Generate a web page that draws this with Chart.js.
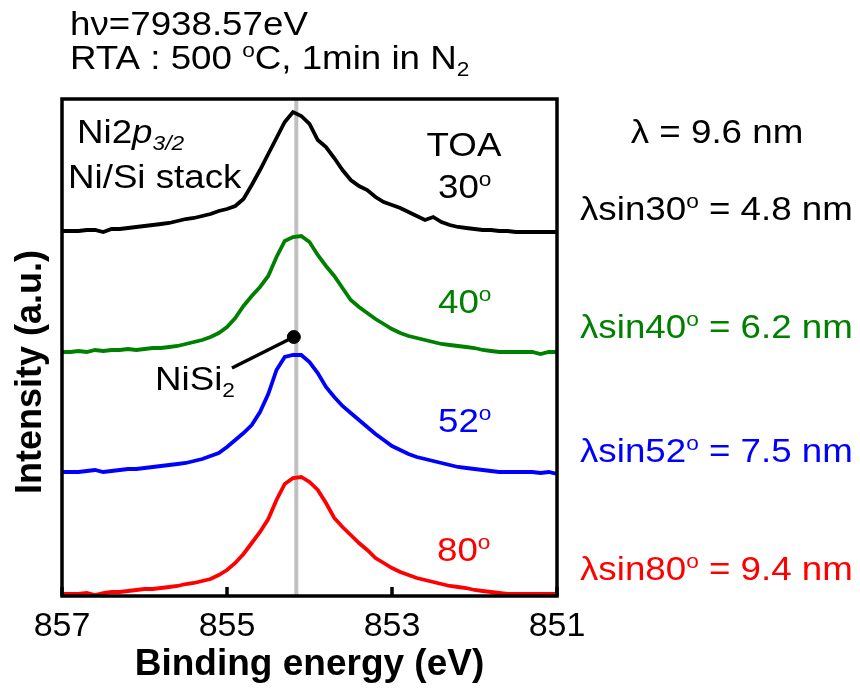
<!DOCTYPE html>
<html>
<head>
<meta charset="utf-8">
<script src="https://cdn.jsdelivr.net/npm/chart.js@4.4.0/dist/chart.umd.min.js"></script>
<style>
  html, body { margin: 0; padding: 0; background: #fff; }
  #wrap { width: 860px; height: 691px; }
</style>
</head>
<body>
<div id="wrap"><canvas id="chart" width="860" height="691"></canvas></div>
<script>
'use strict';

// binding energy grid (eV)
const energies = [
  857.0, 856.9, 856.8, 856.7, 856.6, 856.5, 856.4, 856.3, 856.2, 856.1,
  856.0, 855.9, 855.8, 855.7, 855.6, 855.5, 855.4, 855.3, 855.2, 855.1,
  855.0, 854.9, 854.8, 854.7, 854.6, 854.5, 854.4, 854.3, 854.2, 854.1,
  854.0, 853.9, 853.8, 853.7, 853.6, 853.5, 853.4, 853.3, 853.2, 853.1,
  853.0, 852.9, 852.8, 852.7, 852.6, 852.5, 852.4, 852.3, 852.2, 852.1,
  852.0, 851.9, 851.8, 851.7, 851.6, 851.5, 851.4, 851.3, 851.2, 851.1,
  851.0
];

// stacked intensities (a.u.), each spectrum already offset
const toa30 = [
  365, 365, 365, 366, 366, 364, 367, 367, 368, 369,
  370, 371, 372, 373, 375, 377, 378, 380, 382, 385,
  387, 390, 397, 411, 426, 442, 458, 474, 484, 480,
  472, 456, 449, 438, 426, 416, 410, 406, 399, 394,
  391, 388, 384, 380, 376, 379, 374, 371, 369, 368,
  367, 366, 366, 365, 365, 364, 364, 364, 364, 364,
  364
];
const toa40 = [
  244, 244, 245, 244, 246, 245, 246, 246, 247, 246,
  247, 248, 248, 249, 250, 252, 254, 256, 259, 263,
  269, 278, 290, 300, 309, 320, 339, 355, 359, 360,
  354, 341, 330, 320, 308, 296, 289, 283, 277, 272,
  267, 263, 260, 258, 256, 254, 252, 251, 250, 249,
  248, 246, 245, 244, 244, 244, 244, 244, 242, 244,
  244
];
const toa52 = [
  124, 124, 124, 125, 126, 124, 125, 126, 127, 127,
  128, 129, 130, 131, 132, 133, 135, 137, 140, 143,
  149, 156, 163, 171, 184, 202, 226, 239, 241, 241,
  234, 223, 209, 199, 190, 183, 176, 169, 162, 156,
  150, 146, 142, 139, 137, 135, 133, 131, 129, 128,
  127, 126, 125, 124, 124, 124, 124, 124, 123, 124,
  122
];
const toa80 = [
  2, 2, 2, 3, 1, 3, 4, 4, 5, 6,
  7, 7, 8, 9, 10, 12, 13, 15, 17, 21,
  26, 33, 42, 53, 64, 77, 96, 112, 118, 119,
  114, 106, 93, 78, 69, 61, 53, 46, 38, 33,
  28, 24, 21, 18, 16, 14, 12, 10, 9, 8,
  6, 5, 4, 3, 2, 2, 2, 2, 2, 2,
  2
];

const peakEnergy = 854.16;       // NiSi2 reference line
const markerPoint = [854.19, 259];
const leaderStart = [854.94, 228];
const xTicks = [857, 855, 853, 851];

const FONT = 'Liberation Sans, Arial, sans-serif';
const STRETCH = 1.08;

function pts(ys) {
  return energies.map((e, i) => ({ x: e, y: ys[i] }));
}

// draws text made of normal / sup / sub / italic pieces
function drawRich(ctx, parts, x, y, size, color, align) {
  const font = (p) => (p.it ? 'italic ' : '') +
    ((p.sup || p.sub) ? Math.round(size * 0.62) : size) + 'px ' + FONT;
  let total = 0;
  parts.forEach(p => { ctx.font = font(p); total += ctx.measureText(p.t).width; });
  ctx.save();
  ctx.translate(align === 'center' ? x - total * STRETCH / 2 : x, y);
  ctx.scale(STRETCH, 1);
  ctx.fillStyle = color;
  ctx.textBaseline = 'alphabetic';
  ctx.textAlign = 'left';
  let cx = 0;
  parts.forEach(p => {
    ctx.font = font(p);
    let dy = 0;
    if (p.sup) dy = -size * 0.36;
    if (p.sub) dy = size * 0.22;
    ctx.fillText(p.t, cx, dy);
    cx += ctx.measureText(p.t).width;
  });
  ctx.restore();
}

const labels = [
  { parts: [{ t: 'hν=7938.57eV' }], x: 70, y: 35 },
  { parts: [{ t: 'RTA : 500 ' }, { t: 'o', sup: true }, { t: 'C, 1min in N' }, { t: '2', sub: true }], x: 70, y: 69 },
  { parts: [{ t: 'Ni2' }, { t: 'p', it: true }, { t: '3/2', sub: true, it: true }], x: 77, y: 143 },
  { parts: [{ t: 'Ni/Si stack' }], x: 68, y: 188 },
  { parts: [{ t: 'TOA' }], x: 464, y: 156, align: 'center' },
  { parts: [{ t: '30' }, { t: 'o', sup: true }], x: 438, y: 198 },
  { parts: [{ t: '40' }, { t: 'o', sup: true }], x: 438, y: 313, color: '#008000' },
  { parts: [{ t: '52' }, { t: 'o', sup: true }], x: 438, y: 432, color: '#0000ff' },
  { parts: [{ t: '80' }, { t: 'o', sup: true }], x: 437, y: 561, color: '#ff0000' },
  { parts: [{ t: 'NiSi' }, { t: '2', sub: true }], x: 155, y: 390 },
  { parts: [{ t: 'λ = 9.6 nm' }], x: 717, y: 143, align: 'center' },
  { parts: [{ t: 'λsin30' }, { t: 'o', sup: true }, { t: ' = 4.8 nm' }], x: 580, y: 220 },
  { parts: [{ t: 'λsin40' }, { t: 'o', sup: true }, { t: ' = 6.2 nm' }], x: 580, y: 338, color: '#008000' },
  { parts: [{ t: 'λsin52' }, { t: 'o', sup: true }, { t: ' = 7.5 nm' }], x: 580, y: 462, color: '#0000ff' },
  { parts: [{ t: 'λsin80' }, { t: 'o', sup: true }, { t: ' = 9.4 nm' }], x: 580, y: 580, color: '#ff0000' }
];

const framePlugin = {
  id: 'frame',
  afterDraw(chart) {
    const ctx = chart.ctx;
    const a = chart.chartArea;
    const xs = chart.scales.x;
    ctx.save();
    ctx.strokeStyle = '#000';
    ctx.lineWidth = 3.5;
    ctx.strokeRect(a.left, a.top, a.right - a.left, a.bottom - a.top);
    // inward tick marks
    xTicks.forEach(v => {
      const px = xs.getPixelForValue(v);
      ctx.beginPath();
      ctx.moveTo(px, a.bottom);
      ctx.lineTo(px, a.bottom - 9);
      ctx.stroke();
    });
    labels.forEach(l => drawRich(ctx, l.parts, l.x, l.y, 34, l.color || '#000', l.align));
    // y axis title
    ctx.translate(31, 372);
    ctx.rotate(-Math.PI / 2);
    ctx.font = 'bold 36px ' + FONT;
    ctx.textAlign = 'center';
    ctx.textBaseline = 'middle';
    ctx.fillStyle = '#000';
    ctx.fillText('Intensity (a.u.)', 0, 0);
    ctx.restore();
  }
};

const lineStyle = { borderWidth: 3.8, pointRadius: 0, tension: 0, fill: false };

new Chart(document.getElementById('chart'), {
  type: 'line',
  data: {
    datasets: [
      { data: [{ x: peakEnergy, y: 0 }, { x: peakEnergy, y: 497 }], borderColor: '#c0c0c0', borderWidth: 4, pointRadius: 0, order: 10 },
      Object.assign({ label: '30', data: pts(toa30), borderColor: '#000000', order: 2 }, lineStyle),
      Object.assign({ label: '40', data: pts(toa40), borderColor: '#008000', order: 2 }, lineStyle),
      Object.assign({ label: '52', data: pts(toa52), borderColor: '#0000ff', order: 2 }, lineStyle),
      Object.assign({ label: '80', data: pts(toa80), borderColor: '#ff0000', order: 2 }, lineStyle),
      { data: [{ x: leaderStart[0], y: leaderStart[1] }, { x: markerPoint[0], y: markerPoint[1] }], borderColor: '#000', borderWidth: 3.5, pointRadius: 0, order: 1 },
      { data: [{ x: markerPoint[0], y: markerPoint[1] }], borderColor: '#000', backgroundColor: '#000', pointRadius: 6.5, showLine: false, order: 0 }
    ]
  },
  options: {
    responsive: false,
    animation: false,
    layout: { padding: { left: 62, right: 303, top: 99, bottom: 0 } },
    plugins: { legend: { display: false }, tooltip: { enabled: false } },
    scales: {
      x: {
        type: 'linear',
        reverse: true,
        min: 851,
        max: 857,
        afterBuildTicks: (s) => { s.ticks = xTicks.map(v => ({ value: v })); },
        afterFit: (s) => { s.height = 95; },
        grid: { display: false, drawTicks: false },
        border: { display: false },
        ticks: { color: '#000', font: { size: 34, family: FONT }, padding: 10 },
        title: { display: true, text: 'Binding energy (eV)', color: '#000', font: { size: 37, weight: 'bold', family: FONT }, padding: { top: 0, bottom: 4 } }
      },
      y: {
        display: false,
        min: 0,
        max: 497
      }
    }
  },
  plugins: [framePlugin]
});
</script>
</body>
</html>
